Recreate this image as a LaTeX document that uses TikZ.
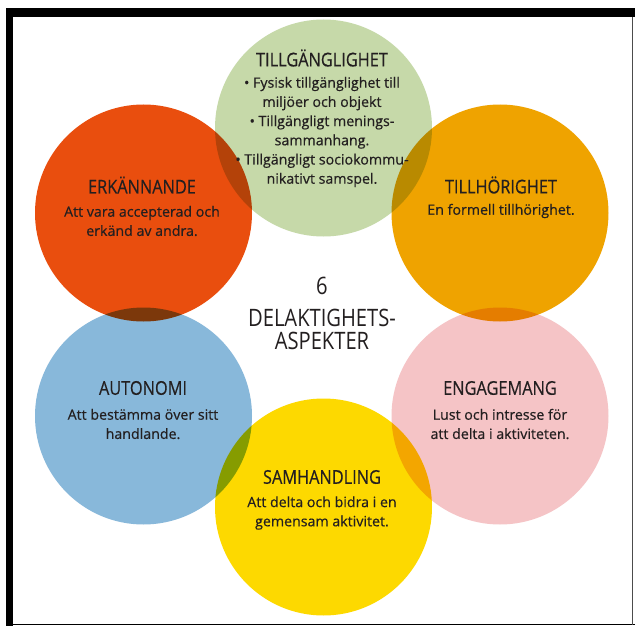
\documentclass[tikz,border=0pt]{standalone}
\usepackage{fontspec}
\setmainfont{Open Sans}[FakeBold=0.5]
\newfontfamily\headfont[FakeStretch=0.86,FakeBold=0.4]{Open Sans}
\newfontfamily\midfont[FakeStretch=0.84]{Open Sans}
\definecolor{cgreen}{HTML}{C6D9A9}
\definecolor{cred}{HTML}{E94E0E}
\definecolor{corange}{HTML}{EFA300}
\definecolor{cblue}{HTML}{88B8DA}
\definecolor{cpink}{HTML}{F5C4C6}
\definecolor{cyellow}{HTML}{FDD900}
\definecolor{ctext}{HTML}{231F20}
\tikzset{
  disc/.style={circle, minimum size=217pt, inner sep=0pt},
  head/.style={text=ctext, font=\headfont\fontsize{19}{22}\selectfont, inner sep=0pt},
  body/.style={text=ctext, font=\fontsize{14.2}{19.2}\selectfont, align=center, inner sep=0pt},
  mid/.style={text=ctext, font=\midfont\fontsize{24}{26}\selectfont, inner sep=0pt},
}
\begin{document}
\begin{tikzpicture}[x=1pt,y=-1pt]
\useasboundingbox (0,0) rectangle (635,626);
\fill[white] (0,0) rectangle (635,626);
% frame
\fill[black] (6,8) rectangle (635,17);
\fill[black] (6,8) rectangle (13,626);
\draw[black,line width=1.2pt] (6,624.5) -- (635,624.5);
\draw[black!70,line width=0.8pt] (632.5,17) -- (632.5,624.5);
% circles
\begin{scope}[blend group=multiply]
\node[disc, fill=cgreen]  (tg) at (323.5,128) {};
\node[disc, fill=cred]    (er) at (143.5,213) {};
\node[disc, fill=corange] (th) at (500,213) {};
\node[disc, fill=cblue]   (au) at (143.5,416) {};
\node[disc, fill=cpink]   (en) at (500,416) {};
\node[disc, fill=cyellow] (sa) at (323.5,507) {};
\end{scope}
% texts
\node[head] (tgh) at (322,58) {TILLGÄNGLIGHET};
\node[body] (tgb) at (322,132) {• Fysisk tillgänglighet till\\miljöer och objekt\\• Tillgängligt menings-\\sammanhang.\\• Tillgängligt sociokommu-\\nikativt samspel.};
\node[head] (erh) at (142,185) {ERKÄNNANDE};
\node[body] (erb) at (142,221) {Att vara accepterad och\\erkänd av andra.};
\node[head] (thh) at (501,185) {TILLHÖRIGHET};
\node[body] (thb) at (501,211) {En formell tillhörighet.};
\node[head] (auh) at (143,388) {AUTONOMI};
\node[body] (aub) at (143,424) {Att bestämma över sitt\\handlande.};
\node[head] (enh) at (500,388) {ENGAGEMANG};
\node[body] (enb) at (500,424) {Lust och intresse för\\att delta i aktiviteten.};
\node[head] (sah) at (322,477) {SAMHANDLING};
\node[body] (sab) at (322,513) {Att delta och bidra i en\\gemensam aktivitet.};
\node[mid] (m1) at (322,286) {6};
\node[mid] (m2) at (322,317.5) {DELAKTIGHETS-};
\node[mid] (m3) at (322,341) {ASPEKTER};
\end{tikzpicture}
\end{document}
